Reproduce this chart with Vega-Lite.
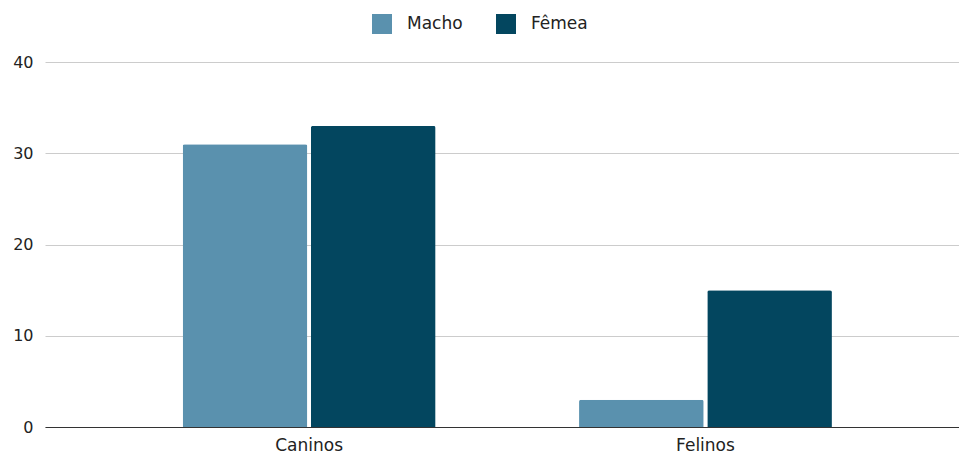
{
  "$schema": "https://vega.github.io/schema/vega-lite/v6.json",
  "width": 914,
  "height": 365,
  "autosize": {"type": "none"},
  "padding": {"left": 45, "top": 62, "right": 0, "bottom": 27},
  "background": "#ffffff",
  "config": {
    "view": {"stroke": null},
    "font": "DejaVu Sans"
  },
  "data": {
    "values": [
      {"especie": "Caninos", "sexo": "Macho", "n": 31},
      {"especie": "Caninos", "sexo": "Fêmea", "n": 33},
      {"especie": "Felinos", "sexo": "Macho", "n": 3},
      {"especie": "Felinos", "sexo": "Fêmea", "n": 15}
    ]
  },
  "mark": {"type": "bar", "cornerRadiusTopLeft": 2, "cornerRadiusTopRight": 2},
  "encoding": {
    "x": {
      "field": "especie",
      "type": "nominal",
      "sort": ["Caninos", "Felinos"],
      "scale": {"paddingInner": 0.362, "paddingOuter": 0.334, "align": 0.52},
      "axis": {
        "title": null,
        "labelAngle": 0,
        "labelFontSize": 17,
        "labelColor": "#222222",
        "labelPadding": 10,
        "ticks": false,
        "domainColor": "#333333",
        "domainWidth": 1.2,
        "grid": false
      }
    },
    "xOffset": {
      "field": "sexo",
      "type": "nominal",
      "sort": ["Macho", "Fêmea"],
      "scale": {"paddingInner": 0.028, "paddingOuter": 0}
    },
    "y": {
      "field": "n",
      "type": "quantitative",
      "scale": {"domain": [0, 40], "nice": false},
      "axis": {
        "title": null,
        "values": [0, 10, 20, 30, 40],
        "labelFontSize": 16,
        "labelColor": "#222222",
        "labelPadding": 12,
        "ticks": false,
        "domain": false,
        "gridColor": "#cccccc",
        "gridWidth": 1
      }
    },
    "color": {
      "field": "sexo",
      "type": "nominal",
      "sort": ["Macho", "Fêmea"],
      "scale": {"domain": ["Macho", "Fêmea"], "range": ["#5a91ae", "#03465f"]},
      "legend": {
        "title": null,
        "orient": "none",
        "direction": "horizontal",
        "legendX": 327,
        "legendY": -48,
        "symbolType": "square",
        "symbolSize": 400,
        "symbolStrokeWidth": 0,
        "symbolOpacity": 1,
        "labelFontSize": 17,
        "labelColor": "#222222",
        "labelOffset": 15,
        "columnPadding": 33
      }
    }
  }
}
